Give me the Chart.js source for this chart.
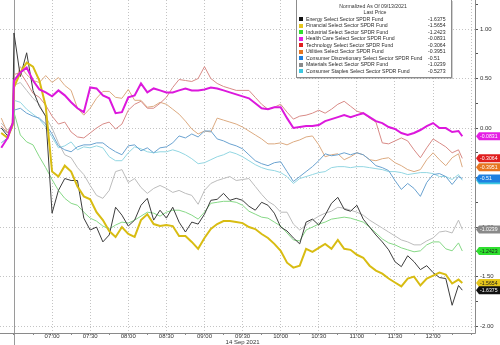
<!DOCTYPE html>
<html>
<head>
<meta charset="utf-8">
<title>Sector SPDR Funds</title>
<script src="https://cdn.jsdelivr.net/npm/chart.js@4.4.1/dist/chart.umd.min.js"></script>
<style>
  html, body { margin: 0; padding: 0; background: #fff; }
  #wrap { width: 500px; height: 345px; }
  canvas { display: block; }
</style>
</head>
<body>
<div id="wrap"><canvas id="sectors" width="500" height="345"></canvas></div>
<script>
"use strict";

/* ── Datos: rendimiento normalizado intradía ─────────────────── */
const TIMES = [
  "06:20", "06:25", "06:29",
  "06:30", "06:35", "06:40", "06:45", "06:50", "06:55", "07:00", "07:05", "07:10", "07:15", "07:20", "07:25",
  "07:30", "07:35", "07:40", "07:45", "07:50", "07:55", "08:00", "08:05", "08:10", "08:15", "08:20", "08:25",
  "08:30", "08:35", "08:40", "08:45", "08:50", "08:55", "09:00", "09:05", "09:10", "09:15", "09:20", "09:25",
  "09:30", "09:35", "09:40", "09:45", "09:50", "09:55", "10:00", "10:05", "10:10", "10:15", "10:20", "10:25",
  "10:30", "10:35", "10:40", "10:45", "10:50", "10:55", "11:00", "11:05", "11:10", "11:15", "11:20", "11:25",
  "11:30", "11:35", "11:40", "11:45", "11:50", "11:55", "12:00", "12:05", "12:10", "12:15", "12:20", "12:23"
];

const ENERGY = [
  0.00, -0.08, 0.05,
  0.96, 0.52, 0.76, 0.38, 0.22, 0.12, -0.86, -0.63, -0.51, -0.53, -0.53, -0.91,
  -1.03, -1.00, -1.15, -1.08, -0.80, -0.88, -0.99, -0.93, -0.78, -0.71, -0.93, -0.83,
  -0.91, -0.80, -0.95, -1.05, -0.95, -0.97, -0.87, -0.73, -0.72, -0.66, -0.73, -0.71,
  -0.73, -0.79, -0.83, -0.75, -0.78, -0.86, -1.00, -1.04, -1.11, -1.17, -0.95, -0.92,
  -0.98, -0.88, -0.76, -0.70, -0.82, -0.84, -0.78, -0.92, -1.00, -1.08, -1.15, -1.23,
  -1.35, -1.40, -1.29, -1.35, -1.43, -1.39, -1.46, -1.51, -1.52, -1.79, -1.59, -1.6375
];
const FINANCIAL = [
  -0.05, -0.10, 0.03,
  0.41, 0.56, 0.66, 0.62, 0.48, 0.22, -0.44, -0.49, -0.38, -0.44, -0.59, -0.69,
  -0.72, -0.85, -0.93, -1.04, -1.10, -1.00, -1.07, -1.10, -0.93, -0.87, -0.97, -0.99,
  -0.98, -0.99, -1.09, -1.09, -1.15, -1.22, -1.11, -1.02, -0.97, -0.94, -0.94, -0.95,
  -0.96, -1.00, -1.02, -1.07, -1.11, -1.17, -1.24, -1.36, -1.41, -1.39, -1.22, -1.25,
  -1.21, -1.17, -1.22, -1.13, -1.22, -1.23, -1.28, -1.31, -1.39, -1.44, -1.47, -1.52,
  -1.56, -1.60, -1.52, -1.50, -1.59, -1.52, -1.49, -1.46, -1.48, -1.57, -1.53, -1.5654
];
const INDUSTRIAL = [
  -0.05, -0.10, 0.02,
  0.16, -0.07, -0.14, -0.17, -0.29, -0.40, -0.52, -0.63, -0.71, -0.76, -0.78, -0.85,
  -0.91, -0.94, -0.99, -1.02, -0.98, -0.95, -0.96, -0.93, -0.89, -0.85, -0.86, -0.89,
  -0.85, -0.83, -0.83, -0.85, -0.88, -0.92, -0.85, -0.76, -0.75, -0.74, -0.74, -0.75,
  -0.78, -0.84, -0.87, -0.90, -0.91, -0.95, -0.99, -1.06, -1.13, -1.14, -1.03, -1.00,
  -0.97, -0.95, -0.92, -0.91, -0.90, -0.91, -0.93, -0.95, -1.00, -1.06, -1.12, -1.16,
  -1.18, -1.21, -1.23, -1.25, -1.24, -1.18, -1.15, -1.15, -1.22, -1.24, -1.16, -1.2423
];
const HEALTH_CARE = [
  -0.20, -0.10, 0.05,
  0.48, 0.56, 0.61, 0.48, 0.39, 0.36, 0.32, 0.38, 0.33, 0.26, 0.20, 0.16,
  0.41, 0.40, 0.33, 0.30, 0.15, 0.16, 0.31, 0.33, 0.45, 0.36, 0.40, 0.38,
  0.36, 0.36, 0.38, 0.40, 0.38, 0.38, 0.39, 0.41, 0.40, 0.38, 0.36, 0.34,
  0.32, 0.30, 0.25, 0.20, 0.19, 0.21, 0.21, 0.10, 0.00, 0.01, 0.02, 0.02,
  0.03, 0.07, 0.09, 0.11, 0.13, 0.11, 0.13, 0.15, 0.11, 0.07, 0.05, 0.01,
  -0.01, -0.05, -0.07, -0.05, -0.02, 0.02, 0.05, 0.00, 0.00, -0.04, -0.03, -0.0831
];
const TECHNOLOGY = [
  0.02, -0.05, 0.06,
  0.54, 0.56, 0.46, 0.35, 0.31, 0.23, 0.12, 0.04, 0.06, -0.04, -0.09, -0.10,
  -0.05, 0.00, 0.04, 0.06, -0.01, 0.04, 0.18, 0.24, 0.27, 0.20, 0.20, 0.25,
  0.31, 0.41, 0.49, 0.48, 0.47, 0.50, 0.62, 0.50, 0.45, 0.42, 0.40, 0.38,
  0.38, 0.38, 0.31, 0.24, 0.19, 0.21, 0.24, 0.16, 0.09, 0.12, 0.13, 0.15,
  0.18, 0.15, 0.19, 0.24, 0.27, 0.22, 0.17, 0.15, 0.10, 0.06, -0.15, -0.16,
  -0.13, -0.10, -0.13, -0.22, -0.30, -0.20, -0.11, -0.15, -0.19, -0.25, -0.22, -0.3064
];
const UTILITIES = [
  0.10, -0.05, 0.04,
  0.43, 0.62, 0.54, 0.48, 0.46, 0.53, 0.46, 0.51, 0.43, 0.38, 0.20, 0.13,
  0.20, 0.30, 0.37, 0.37, 0.31, 0.30, 0.39, 0.28, 0.28, 0.21, 0.22, 0.26,
  0.24, 0.19, 0.14, 0.07, -0.01, -0.06, -0.03, -0.04, 0.10, 0.08, 0.06, 0.04,
  0.01, -0.03, -0.07, -0.11, -0.16, -0.16, -0.15, -0.17, -0.14, -0.12, -0.09, -0.08,
  -0.17, -0.29, -0.27, -0.26, -0.32, -0.29, -0.25, -0.27, -0.32, -0.33, -0.31, -0.30,
  -0.35, -0.38, -0.42, -0.44, -0.42, -0.32, -0.25, -0.32, -0.38, -0.30, -0.26, -0.3951
];
const DISCRETIONARY = [
  -0.15, -0.10, 0.03,
  0.18, 0.20, 0.15, 0.12, 0.10, 0.04, -0.06, -0.18, -0.22, -0.24, -0.19, -0.17,
  -0.17, -0.15, -0.15, -0.20, -0.24, -0.27, -0.18, -0.17, -0.23, -0.20, -0.25, -0.20,
  -0.19, -0.15, -0.08, -0.10, -0.06, -0.09, -0.03, -0.03, -0.11, -0.13, -0.16, -0.18,
  -0.21, -0.27, -0.33, -0.36, -0.38, -0.35, -0.34, -0.44, -0.54, -0.49, -0.44, -0.39,
  -0.33, -0.26, -0.28, -0.27, -0.25, -0.27, -0.25, -0.27, -0.32, -0.38, -0.40, -0.43,
  -0.53, -0.62, -0.56, -0.61, -0.69, -0.55, -0.47, -0.46, -0.49, -0.57, -0.49, -0.51
];
const MATERIALS = [
  0.05, -0.02, 0.04,
  0.43, 0.46, 0.38, 0.30, 0.24, 0.11, 0.00, -0.15, -0.27, -0.30, -0.40, -0.47,
  -0.58, -0.68, -0.71, -0.63, -0.44, -0.42, -0.55, -0.51, -0.60, -0.66, -0.61, -0.58,
  -0.61, -0.65, -0.63, -0.66, -0.68, -0.77, -0.63, -0.56, -0.53, -0.51, -0.49, -0.53,
  -0.52, -0.51, -0.59, -0.67, -0.74, -0.78, -0.85, -0.85, -0.97, -1.03, -0.98, -0.93,
  -0.89, -0.86, -0.84, -0.80, -0.81, -0.83, -0.85, -0.88, -0.93, -0.97, -1.01, -1.05,
  -1.09, -1.13, -1.15, -1.18, -1.18, -1.14, -1.11, -1.05, -1.04, -1.06, -0.93, -1.0239
];
const STAPLES = [
  0.00, -0.05, 0.05,
  0.28, 0.26, 0.19, 0.14, 0.09, 0.01, -0.09, -0.20, -0.18, -0.14, -0.22, -0.19,
  -0.20, -0.18, -0.20, -0.29, -0.33, -0.33, -0.25, -0.19, -0.21, -0.24, -0.25, -0.24,
  -0.24, -0.22, -0.24, -0.27, -0.31, -0.36, -0.35, -0.32, -0.29, -0.27, -0.24, -0.26,
  -0.29, -0.33, -0.37, -0.40, -0.42, -0.43, -0.45, -0.49, -0.56, -0.51, -0.49, -0.47,
  -0.45, -0.44, -0.40, -0.39, -0.39, -0.40, -0.39, -0.39, -0.40, -0.41, -0.42, -0.44,
  -0.44, -0.45, -0.47, -0.46, -0.45, -0.45, -0.46, -0.49, -0.49, -0.52, -0.47, -0.5273
];

const FUND_NAMES = [
  "Energy Select Sector SPDR Fund",
  "Financial Select Sector SPDR Fund",
  "Industrial Select Sector SPDR Fund",
  "Health Care Select Sector SPDR Fund",
  "Technology Select Sector SPDR Fund",
  "Utilities Select Sector SPDR Fund",
  "Consumer Discretionary Select Sector SPDR Fund",
  "Materials Select Sector SPDR Fund",
  "Consumer Staples Select Sector SPDR Fund"
];
const FUND_SERIES = [ENERGY, FINANCIAL, INDUSTRIAL, HEALTH_CARE, TECHNOLOGY, UTILITIES, DISCRETIONARY, MATERIALS, STAPLES];

const TITLE_LINES = ["Normalized As Of 09/13/2021", "Last Price"];
const DATE_LABEL  = "14 Sep 2021";
const Y_LABELS    = [-2, -1.5, -1, -0.5, 0, 0.5, 1];

/* ── Estilo por serie ──────────────────────────────────────────── */
// color de línea (trazo en el gráfico), color de etiqueta (leyenda / tag), grosor, orden de dibujo
const STYLE = [
  { line: "#3c3c3c", tag: "#111111", text: "#ffffff", width: 1,   order: 2 },
  { line: "#d8bc12", tag: "#e6c61c", text: "#1a1a1a", width: 2,   order: 1 },
  { line: "#86d886", tag: "#2fe02f", text: "#1a1a1a", width: 1,   order: 5 },
  { line: "#dc18dc", tag: "#e41ee4", text: "#ffffff", width: 2,   order: 0 },
  { line: "#d88a86", tag: "#e01e1e", text: "#ffffff", width: 1,   order: 4 },
  { line: "#dcaa80", tag: "#e6741e", text: "#ffffff", width: 1,   order: 6 },
  { line: "#6aa2d0", tag: "#1e80e0", text: "#ffffff", width: 1,   order: 3 },
  { line: "#bcbcbc", tag: "#8a8a8a", text: "#ffffff", width: 1,   order: 7 },
  { line: "#92d6e2", tag: "#3cc8e0", text: "#1a1a1a", width: 1,   order: 8 }
];

const FONT = "'Liberation Sans', Arial, sans-serif";
const AXIS_COLOR = "#8a8a8a";

function toMinutes(hhmm) {
  const [h, m] = hhmm.split(":").map(Number);
  return h * 60 + m;
}
function fmtTime(min) {
  const h = Math.floor(min / 60), m = min % 60;
  return String(h).padStart(2, "0") + ":" + String(m).padStart(2, "0");
}

const SESSION_OPEN = toMinutes("06:30");
const X_MIN = 379;    // 06:19
const X_MAX = 753;    // 12:33
const Y_MIN = -2.07;
const Y_MAX = 1.293;

const datasets = FUND_NAMES.map((name, i) => ({
  label: name,
  data: TIMES.map((t, k) => ({ x: toMinutes(t), y: FUND_SERIES[i][k] })),
  borderColor: STYLE[i].line,
  borderWidth: STYLE[i].width,
  order: STYLE[i].order,
  pointRadius: 0,
  tension: 0,
  fill: false
}));

/* ── Plugin: ejes sólidos y separador de sesión (06:30) ────────── */
const axisLines = {
  id: "axisLines",
  beforeDatasetsDraw(chart) {
    const { ctx, chartArea, scales } = chart;
    const x = Math.round(scales.x.getPixelForValue(SESSION_OPEN)) + 0.5;
    const r = Math.round(chartArea.right) + 0.5;
    const b = Math.round(chartArea.bottom) + 0.5;
    ctx.save();
    ctx.lineWidth = 1;
    ctx.strokeStyle = "#9a9a9a";
    ctx.beginPath();
    ctx.moveTo(x, chartArea.top);
    ctx.lineTo(x, chart.height);
    ctx.stroke();
    ctx.strokeStyle = AXIS_COLOR;
    ctx.beginPath();
    ctx.moveTo(chartArea.left, b);
    ctx.lineTo(r, b);
    ctx.moveTo(r, chartArea.top);
    ctx.lineTo(r, b);
    ctx.stroke();
    ctx.restore();
  }
};

function drawNarrow(ctx, text, x, y, align) {
  ctx.save();
  ctx.font = "6px " + FONT;
  ctx.textAlign = align;
  ctx.textBaseline = "middle";
  ctx.translate(x, y);
  ctx.scale(0.86, 1);
  ctx.fillText(text, 0, 0);
  ctx.restore();
}

/* ── Plugin: recuadro de leyenda con último precio ─────────────── */
const legendBox = {
  id: "legendBox",
  afterDraw(chart) {
    const { ctx } = chart;
    const bx = 296, by = -1, bw = 155, bh = 78;
    ctx.save();
    ctx.fillStyle = "rgba(0,0,0,0.18)";
    ctx.fillRect(bx + 2, by + 2, bw, bh);
    ctx.fillStyle = "#ffffff";
    ctx.fillRect(bx, by, bw, bh);
    ctx.strokeStyle = "#8c8c8c";
    ctx.lineWidth = 1;
    ctx.strokeRect(bx + 0.5, by + 0.5, bw, bh);

    ctx.fillStyle = "#333";
    drawNarrow(ctx, TITLE_LINES[0], 373, 6, "center");
    drawNarrow(ctx, TITLE_LINES[1], 375, 12.6, "center");

    FUND_NAMES.forEach((name, i) => {
      const y = 19.3 + i * 6.5;
      ctx.fillStyle = STYLE[i].tag;
      ctx.fillRect(299, Math.round(y) - 2, 4, 4);
      ctx.fillStyle = "#2a2a2a";
      drawNarrow(ctx, name, 306, y, "left");
      const series = FUND_SERIES[i];
      drawNarrow(ctx, String(series[series.length - 1]), 428, y, "left");
    });
    ctx.restore();
  }
};

/* ── Plugin: tags con el último valor en el eje derecho ────────── */
const lastValueTags = {
  id: "lastValueTags",
  afterDraw(chart) {
    const { ctx, chartArea, scales } = chart;
    const x0 = chartArea.right + 1;
    ctx.save();
    for (let i = FUND_NAMES.length - 1; i >= 0; i--) {
      const series = FUND_SERIES[i];
      const v = series[series.length - 1];
      const y = scales.y.getPixelForValue(v);
      ctx.fillStyle = STYLE[i].tag;
      ctx.beginPath();
      ctx.moveTo(x0, y);
      ctx.lineTo(x0 + 3, y - 4);
      ctx.lineTo(chart.width, y - 4);
      ctx.lineTo(chart.width, y + 4);
      ctx.lineTo(x0 + 3, y + 4);
      ctx.closePath();
      ctx.fill();
      ctx.fillStyle = STYLE[i].text;
      drawNarrow(ctx, String(v), x0 + 4, y + 0.3, "left");
    }
    ctx.restore();
  }
};

const isHalfHour = v => v % 30 === 0;
const isLabelTime = v => isHalfHour(v) && v >= toMinutes("07:00") && v <= toMinutes("12:00");

new Chart(document.getElementById("sectors"), {
  type: "line",
  data: { datasets },
  options: {
    responsive: false,
    animation: false,
    devicePixelRatio: 1,
    layout: { padding: 0 },
    plugins: {
      legend: { display: false },
      tooltip: { enabled: false }
    },
    scales: {
      x: {
        type: "linear",
        min: X_MIN,
        max: X_MAX,
        afterBuildTicks(scale) {
          const ticks = [];
          for (let v = SESSION_OPEN; v <= toMinutes("12:30"); v += 15) ticks.push({ value: v });
          scale.ticks = ticks;
        },
        afterFit(scale) {
          scale.height = 12;
          scale.paddingLeft = 0;
          scale.paddingRight = 0;
        },
        grid: {
          color: c => (c.tick && isHalfHour(c.tick.value) && c.tick.value > SESSION_OPEN) ? "#c4c4c4" : "rgba(0,0,0,0)",
          tickColor: AXIS_COLOR,
          tickLength: 2,
          lineWidth: 1
        },
        border: { display: false, dash: [1, 2] },
        ticks: {
          autoSkip: false,
          maxRotation: 0,
          padding: -2,
          color: "#333",
          font: { size: 6, family: FONT, lineHeight: 1 },
          callback(v) {
            if (!isLabelTime(v)) return "";
            return v === toMinutes("09:30") ? [fmtTime(v), DATE_LABEL] : fmtTime(v);
          }
        }
      },
      y: {
        position: "right",
        min: Y_MIN,
        max: Y_MAX,
        afterBuildTicks(scale) {
          const ticks = [];
          for (let v = -2; v <= 1.25 + 1e-9; v += 0.25) ticks.push({ value: Math.round(v * 100) / 100 });
          scale.ticks = ticks;
        },
        afterFit(scale) {
          scale.width = 25;
          scale.paddingTop = 0;
          scale.paddingBottom = 0;
        },
        grid: {
          color: c => (c.tick && Y_LABELS.includes(c.tick.value)) ? "#c4c4c4" : "rgba(0,0,0,0)",
          tickColor: "#555",
          tickLength: 3,
          lineWidth: 1
        },
        border: { display: false, dash: [1, 2] },
        ticks: {
          padding: 2,
          color: "#333",
          font: { size: 6, family: FONT },
          callback: v => Y_LABELS.includes(v) ? v.toFixed(2) : ""
        }
      }
    }
  },
  plugins: [axisLines, legendBox, lastValueTags]
});
</script>
</body>
</html>
